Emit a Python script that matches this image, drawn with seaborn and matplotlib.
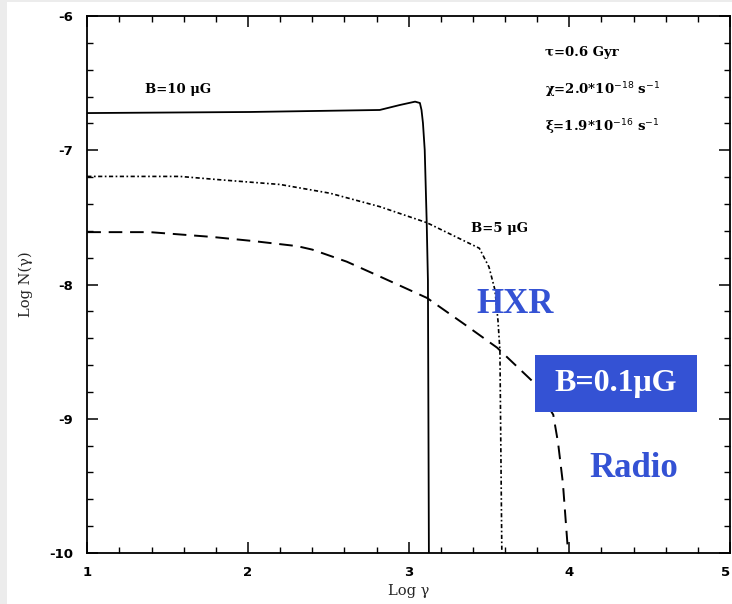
import numpy as np
import pandas as pd
import matplotlib
matplotlib.use("Agg")
import matplotlib.pyplot as plt
import seaborn as sns
from matplotlib.patches import Rectangle

# ---- data ----
b10_x = [1.0, 2.01, 2.82, 2.945, 3.04, 3.07, 3.08, 3.089, 3.10, 3.112, 3.12, 3.126]
b10_y = [-6.723, -6.715, -6.70, -6.663, -6.638, -6.648, -6.70, -6.797, -6.998, -7.52, -7.97, -10.0]

b5_x = [1.0, 1.577, 1.826, 2.20, 2.51, 2.82, 3.114, 3.44, 3.50, 3.537, 3.556, 3.568, 3.58]
b5_y = [-7.195, -7.195, -7.22, -7.255, -7.32, -7.42, -7.54, -7.73, -7.87, -8.04, -8.27, -8.49, -10.0]

b01_x = [1.0, 1.39, 1.78, 2.03, 2.305, 2.40, 2.615, 2.82, 3.114, 3.34, 3.55, 3.77, 3.90, 3.93, 3.96, 3.99, 4.0]
b01_y = [-7.61, -7.61, -7.646, -7.676, -7.714, -7.74, -7.83, -7.94, -8.10, -8.29, -8.47, -8.72, -8.97, -9.18, -9.48, -9.96, -10.0]

x_ticks = [1, 2, 3, 4, 5]
y_ticks = [-10, -9, -8, -7, -6]

sns.set_theme(style="white")
plt.rcParams['font.family'] = ['DejaVu Sans']

fig = plt.figure(figsize=(7.32, 6.04), dpi=100, facecolor="#ececec")
fig.patches.append(Rectangle((7/732, 0), 1, 1 - 2/604, transform=fig.transFigure,
                             facecolor="white", edgecolor="none", zorder=-10))
ax = fig.add_axes([87.3/732, 1 - 553/604, (730 - 87.3)/732, (553 - 16)/604])
ax.set_facecolor("white")

df10 = pd.DataFrame({"x": b10_x, "y": b10_y})
df5 = pd.DataFrame({"x": b5_x, "y": b5_y})
df01 = pd.DataFrame({"x": b01_x, "y": b01_y})

sns.lineplot(data=df10, x="x", y="y", ax=ax, sort=False, estimator=None,
             color="black", linewidth=1.3)
l5 = sns.lineplot(data=df5, x="x", y="y", ax=ax, sort=False, estimator=None,
                  color="black", linewidth=1.2).lines[-1]
l5.set_linestyle((0, (2.5, 1.5, 1, 1.5)))
l01 = sns.lineplot(data=df01, x="x", y="y", ax=ax, sort=False, estimator=None,
                   color="black", linewidth=1.4).lines[-1]
l01.set_linestyle((0, (7, 4)))

ax.set_xlim(1, 5)
ax.set_ylim(-10, -6)
ax.set_xticks(x_ticks)
ax.set_xticklabels([str(v) for v in x_ticks])
ax.set_yticks(y_ticks)
ax.set_yticklabels([str(v) for v in y_ticks])
ax.xaxis.set_minor_locator(matplotlib.ticker.MultipleLocator(0.2))
ax.yaxis.set_minor_locator(matplotlib.ticker.MultipleLocator(0.2))
ax.tick_params(which="both", direction="in", top=True, right=True, bottom=True, left=True,
               colors="black", labelsize=9.5)
ax.tick_params(which="major", length=8, width=1.1)
ax.tick_params(which="minor", length=4.5, width=1.0)
ax.tick_params(axis="x", which="major", pad=9)
ax.tick_params(axis="y", which="major", pad=10)
for lab in ax.get_xticklabels() + ax.get_yticklabels():
    lab.set_fontweight("bold")
ax.get_xticklabels()[-1].set_horizontalalignment("right")
for s in ax.spines.values():
    s.set_visible(True)
    s.set_color("black")
    s.set_linewidth(1.3)

ax.set_xlabel("Log γ", family="DejaVu Serif", fontsize=10.5, labelpad=4)
ax.set_ylabel("Log N(γ)", family="DejaVu Serif", fontsize=10.5, labelpad=12)

serif = dict(family="DejaVu Serif", fontsize=9.5, color="black", fontweight="bold")
ax.text(1.36, -6.55, "B=10 μG", va="center", ha="left", **serif)
ax.text(3.39, -7.58, "B=5 μG", va="center", ha="left", **serif)
ax.text(3.85, -6.27, "τ=0.6 Gyr", va="center", ha="left", **serif)
ax.text(3.85, -6.55, "χ=2.0*10$^{-18}$ s$^{-1}$", va="center", ha="left", **serif)
ax.text(3.85, -6.83, "ξ=1.9*10$^{-16}$ s$^{-1}$", va="center", ha="left", **serif)

blue = "#3452d4"
ax.text(3.66, -8.15, "HXR", family="Liberation Serif", fontweight="bold",
        fontsize=25, color=blue, ha="center", va="center")
ax.text(4.40, -9.37, "Radio", family="Liberation Serif", fontweight="bold",
        fontsize=25, color=blue, ha="center", va="center")
box_x0, box_x1 = 1 + (535 - 87.3)/160.7, 1 + (697 - 87.3)/160.7
box_y1, box_y0 = -6 - (355 - 16)/134.25, -6 - (412 - 16)/134.25
ax.add_patch(Rectangle((box_x0, box_y0), box_x1 - box_x0, box_y1 - box_y0,
                       facecolor=blue, edgecolor="none", zorder=5))
ax.text((box_x0 + box_x1)/2, (box_y0 + box_y1)/2, "B=0.1μG", family="Liberation Serif",
        fontweight="bold", fontsize=23, color="white", ha="center", va="center", zorder=6)

fig.savefig("out.png", dpi=100, facecolor=fig.get_facecolor())
